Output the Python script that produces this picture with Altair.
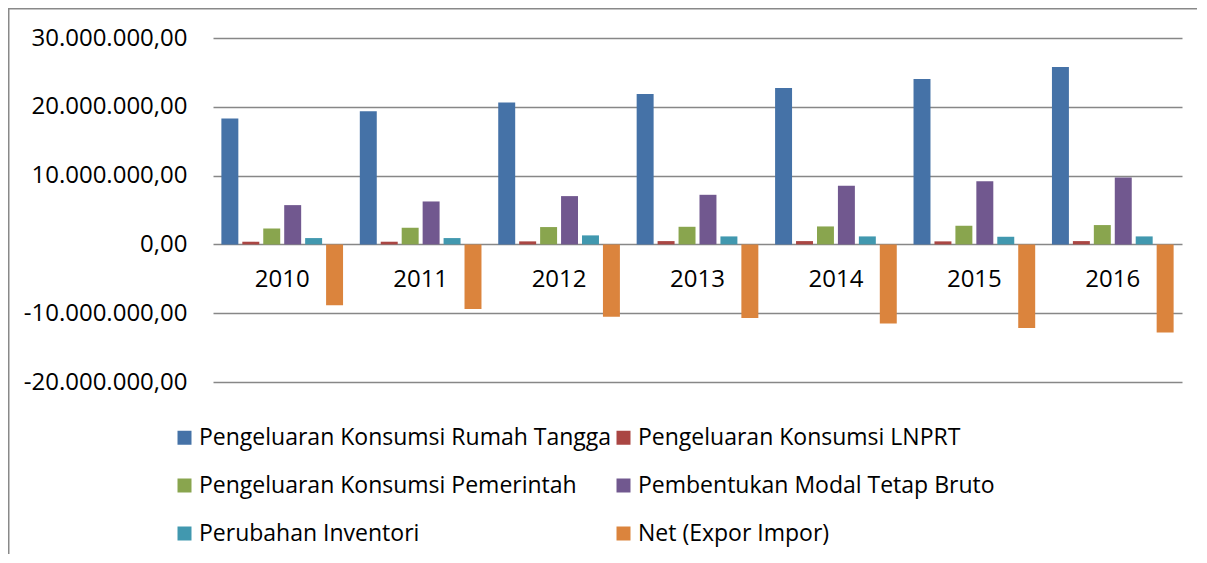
import altair as alt
import pandas as pd

years = ["2010", "2011", "2012", "2013", "2014", "2015", "2016"]
series = [
    "Pengeluaran Konsumsi Rumah Tangga",
    "Pengeluaran Konsumsi LNPRT",
    "Pengeluaran Konsumsi Pemerintah",
    "Pembentukan Modal Tetap Bruto",
    "Perubahan Inventori",
    "Net (Expor Impor)",
]
rumah_tangga = [18290000, 19350000, 20610000, 21870000, 22740000, 24040000, 25790000]
lnprt = [390000, 390000, 440000, 480000, 480000, 440000, 480000]
pemerintah = [2320000, 2420000, 2520000, 2560000, 2610000, 2710000, 2810000]
pmtb = [5710000, 6240000, 7020000, 7210000, 8510000, 9190000, 9720000]
inventori = [920000, 920000, 1310000, 1160000, 1160000, 1110000, 1160000]
net = [-8850000, -9390000, -10500000, -10690000, -11510000, -12140000, -12820000]
y_ticks = [-20000000, -10000000, 0, 10000000, 20000000, 30000000]
colors = ["#4572A7", "#AA4643", "#89A54E", "#71588F", "#4198AF", "#DB843D"]

values_by_series = [rumah_tangga, lnprt, pemerintah, pmtb, inventori, net]
rows = []
for s, vals in zip(series, values_by_series):
    for yr, v in zip(years, vals):
        rows.append({"year": yr, "series": s, "value": v})
df = pd.DataFrame(rows)

# legend fills column-major: reorder so rows read like the reference
legend_order = [0, 2, 4, 1, 3, 5]
legend_domain = [series[i] for i in legend_order]
legend_range = [colors[i] for i in legend_order]

W, H = 969, 344
PAD_L, PAD_T, PAD_R, PAD_B = 205, 30, 15, 172
FONT = "Open Sans"

label_expr = "replace(replace(format(datum.value, ',.0f'), regexp(',', 'g'), '.'), '\u2212', '-') + ',00'"

bars = alt.Chart(df).mark_bar().encode(
    x=alt.X(
        "year:N",
        sort=years,
        scale=alt.Scale(paddingInner=0, paddingOuter=0),
        axis=alt.Axis(
            title=None, orient="bottom", offset=-(H * 0.4), domain=False, ticks=False,
            grid=False, labelAngle=0, labelPadding=23, labelFontSize=24,
            labelFont=FONT, labelColor="black",
        ),
    ),
    xOffset=alt.XOffset(
        "series:N", sort=series,
        scale=alt.Scale(paddingInner=0.19, paddingOuter=0.4),
    ),
    y=alt.Y(
        "value:Q",
        scale=alt.Scale(domain=[-20000000, 30000000], nice=False, zero=False),
        axis=alt.Axis(
            title=None, values=y_ticks, labelExpr=label_expr, grid=True,
            gridColor="#878787", gridWidth=1.5, domain=False, ticks=False,
            labelPadding=26, labelFontSize=24, labelFont=FONT, labelColor="black",
        ),
    ),
    color=alt.Color(
        "series:N",
        scale=alt.Scale(domain=legend_domain, range=legend_range),
        legend=alt.Legend(
            title=None, orient="none", legendX=-40, legendY=388, columns=2,
            symbolType="square", symbolSize=196, symbolStrokeWidth=0,
            labelFontSize=23, labelFont=FONT, labelColor="black", labelLimit=600,
            labelOffset=3, columnPadding=0, rowPadding=24, padding=0,
        ),
    ),
)

frame_df = pd.DataFrame({"a": [0]})
left_edge = alt.Chart(frame_df).mark_rect(color="#898989").encode(
    x=alt.value(-PAD_L),
    x2=alt.value(-PAD_L + 1.5),
    y=alt.value(-PAD_T),
    y2=alt.value(H + PAD_B),
)
top_edge = alt.Chart(frame_df).mark_rect(color="#898989").encode(
    x=alt.value(-PAD_L),
    x2=alt.value(W + PAD_R),
    y=alt.value(-PAD_T),
    y2=alt.value(-PAD_T + 1.5),
)

chart = alt.layer(left_edge, top_edge, bars).properties(
    width=W,
    height=H,
    autosize=alt.AutoSizeParams(type="none"),
    padding={"left": PAD_L, "top": PAD_T, "right": PAD_R, "bottom": PAD_B},
).configure_view(stroke=None)

chart.save("out.html", embed_options={"renderer": "svg", "actions": False})
